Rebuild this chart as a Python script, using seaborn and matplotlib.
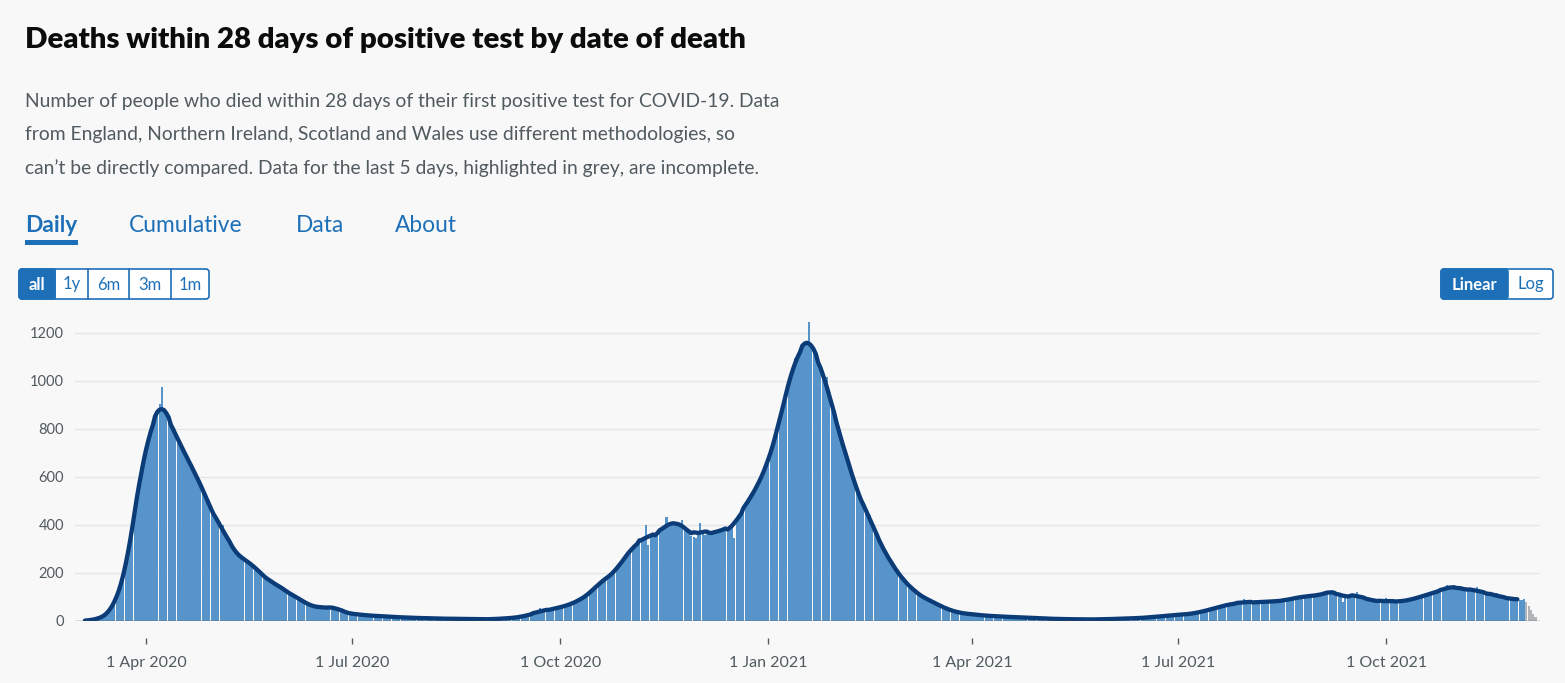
import pandas as pd
import numpy as np
import matplotlib
matplotlib.use('Agg')
import matplotlib.pyplot as plt
import matplotlib.transforms as mtransforms
from matplotlib.patches import FancyBboxPatch, Rectangle
import seaborn as sns

# ── Data ─────────────────────────────────────────────────────────────
start_date = "2020-03-02"
incomplete_days = 5

# daily deaths, one row per week (Mon..Sun)
daily_deaths = [
    0, 0, 1, 1, 2, 2, 5,
    6, 8, 10, 14, 18, 22, 30,
    40, 55, 75, 95, 120, 150, 180,
    215, 270, 330, 390, 450, 520, 580,
    640, 700, 710, 745, 790, 825, 850,
    880, 905, 975, 870, 860, 840, 820,
    790, 785, 755, 745, 715, 705, 680,
    665, 645, 628, 610, 590, 570, 550,
    530, 505, 480, 460, 440, 420, 400,
    395, 400, 360, 345, 322, 305, 292,
    283, 272, 262, 258, 252, 248, 241,
    235, 225, 215, 205, 195, 188, 180,
    170, 163, 158, 160, 150, 145, 135,
    130, 124, 118, 112, 106, 100, 97,
    92, 85, 78, 72, 67, 62, 60,
    60, 58, 57, 56, 58, 55, 54,
    55, 57, 60, 52, 45, 38, 35,
    33, 32, 30, 29, 28, 27, 26,
    25, 24, 23, 23, 22, 21, 21,
    21, 20, 20, 19, 18, 18, 17,
    17, 16, 16, 15, 15, 14, 14,
    14, 13, 13, 13, 12, 12, 12,
    12, 11, 11, 11, 10, 10, 10,
    10, 10, 9, 10, 9, 9, 9,
    9, 8, 9, 8, 8, 8, 8,
    8, 7, 8, 7, 7, 8, 7,
    7, 8, 8, 9, 9, 10, 10,
    11, 12, 12, 13, 14, 15, 16,
    18, 20, 23, 25, 27, 30, 33,
    35, 54, 40, 42, 44, 46, 49,
    50, 53, 55, 57, 60, 62, 65,
    67, 72, 76, 80, 85, 90, 96,
    102, 108, 115, 125, 135, 145, 158,
    160, 168, 175, 183, 190, 198, 205,
    213, 228, 245, 258, 270, 282, 295,
    305, 315, 322, 330, 338, 340, 400,
    318, 352, 355, 360, 365, 372, 378,
    385, 433, 395, 405, 410, 408, 402,
    398, 420, 385, 380, 372, 355, 350,
    345, 375, 410, 372, 360, 368, 362,
    362, 370, 375, 372, 378, 385, 380,
    385, 392, 405, 345, 430, 445, 460,
    470, 485, 495, 510, 525, 545, 565,
    580, 600, 620, 640, 665, 700, 735,
    760, 795, 835, 880, 920, 955, 990,
    1030, 1060, 1095, 1105, 1125, 1140, 1150,
    1165, 1245, 1160, 1130, 1100, 1080, 1050,
    1020, 1000, 1015, 940, 900, 865, 820,
    790, 765, 740, 700, 670, 640, 610,
    575, 545, 525, 500, 480, 460, 440,
    440, 400, 378, 352, 333, 312, 296,
    280, 265, 250, 232, 218, 205, 190,
    178, 168, 158, 150, 140, 130, 120,
    115, 108, 102, 97, 91, 86, 82,
    78, 74, 68, 63, 58, 54, 50,
    47, 44, 41, 38, 35, 33, 32,
    31, 30, 29, 28, 27, 26, 25,
    24, 23, 23, 22, 21, 20, 20,
    20, 19, 19, 18, 18, 17, 17,
    16, 16, 15, 15, 14, 14, 13,
    13, 13, 12, 12, 11, 11, 11,
    10, 10, 10, 9, 9, 9, 9,
    8, 8, 8, 8, 8, 7, 7,
    7, 7, 7, 7, 6, 7, 6,
    7, 6, 7, 7, 7, 7, 8,
    8, 8, 8, 9, 9, 9, 10,
    10, 10, 11, 11, 11, 12, 12,
    12, 13, 14, 14, 15, 16, 17,
    17, 18, 19, 20, 21, 22, 23,
    24, 25, 25, 26, 27, 27, 28,
    28, 29, 30, 32, 34, 36, 38,
    40, 42, 44, 47, 50, 53, 56,
    58, 60, 63, 66, 68, 70, 71,
    72, 73, 74, 75, 92, 76, 77,
    77, 78, 78, 79, 78, 80, 79,
    80, 81, 82, 80, 83, 82, 84,
    84, 86, 88, 90, 92, 94, 96,
    98, 99, 101, 102, 103, 104, 105,
    105, 106, 108, 110, 112, 115, 118,
    120, 128, 125, 115, 112, 108, 78,
    110, 108, 106, 104, 102, 120, 100,
    98, 96, 93, 90, 88, 86, 84,
    83, 82, 80, 80, 95, 81, 80,
    82, 80, 81, 82, 83, 84, 85,
    87, 89, 92, 95, 98, 100, 103,
    106, 109, 112, 115, 118, 121, 124,
    127, 130, 133, 152, 135, 138, 148,
    138, 136, 135, 134, 132, 131, 129,
    128, 126, 140, 122, 120, 118, 116,
    114, 111, 108, 105, 118, 100, 98,
    97, 96, 94, 93, 92, 91, 90,
    89, 87, 92, 80, 62, 45, 30,
    15,
]

tick_dates = ["2020-04-01", "2020-07-01", "2020-10-01", "2021-01-01",
              "2021-04-01", "2021-07-01", "2021-10-01"]
tick_labels = ["1 Apr 2020", "1 Jul 2020", "1 Oct 2020", "1 Jan 2021",
               "1 Apr 2021", "1 Jul 2021", "1 Oct 2021"]
y_ticks = [0, 200, 400, 600, 800, 1000, 1200]

title = "Deaths within 28 days of positive test by date of death"
subtitle_lines = [
    "Number of people who died within 28 days of their first positive test for COVID-19. Data",
    "from England, Northern Ireland, Scotland and Wales use different methodologies, so",
    "can\u2019t be directly compared. Data for the last 5 days, highlighted in grey, are incomplete.",
]
tabs = ["Daily", "Cumulative", "Data", "About"]
range_buttons = ["all", "1y", "6m", "3m", "1m"]
scale_buttons = ["Linear", "Log"]

# ── Colours / theme ──────────────────────────────────────────────────
BG = "#f8f8f8"
BAR = "#5694ca"
BAR_GREY = "#b1b4b6"
LINE = "#0b3c78"
LINK = "#1d70b8"
TEXT = "#0b0c0c"
SUB = "#505a5f"

sns.set_theme(style="white", rc={
    "figure.facecolor": BG,
    "axes.facecolor": BG,
})
plt.rcParams['font.family'] = ['Lato', 'DejaVu Sans']

W, H = 1565, 683
fig = plt.figure(figsize=(W / 100, H / 100), dpi=100)

# overlay in pixel coordinates for the page furniture
ov = fig.add_axes([0, 0, 1, 1], zorder=0)
ov.set_xlim(0, W)
ov.set_ylim(H, 0)
ov.axis('off')

ov.text(25, 40, title, fontsize=21.2, fontweight='heavy', color=TEXT,
        va='center', ha='left')
for i, line in enumerate(subtitle_lines):
    ov.text(25, 101 + 33.5 * i, line, fontsize=13.85, color=SUB,
            va='center', ha='left')

tab_x = [25, 129, 296, 395]
for tx, name in zip(tab_x, tabs):
    ov.text(tx, 225, name, fontsize=16.4, color=LINK, va='center', ha='left',
            fontweight='bold' if name == "Daily" else 'normal')
ov.add_patch(Rectangle((25, 240), 53, 5, color=LINK, lw=0))

# range buttons
edges = [19, 55, 88, 129, 171, 209]
ov.add_patch(FancyBboxPatch((19, 269), 190, 30,
                            boxstyle="round,pad=0,rounding_size=3",
                            fc="white", ec=LINK, lw=1.2))
ov.add_patch(FancyBboxPatch((19, 269), 36, 30,
                            boxstyle="round,pad=0,rounding_size=3",
                            fc=LINK, ec=LINK, lw=1.2))
for i, lab in enumerate(range_buttons):
    x0, x1 = edges[i], edges[i + 1]
    if 0 < i:
        ov.plot([x0, x0], [269, 299], color=LINK, lw=1.2)
    ov.text((x0 + x1) / 2, 284.5, lab, fontsize=12, ha='center', va='center',
            color='white' if i == 0 else LINK,
            fontweight='bold' if i == 0 else 'normal')

# scale buttons
ov.add_patch(FancyBboxPatch((1441, 269), 112, 30,
                            boxstyle="round,pad=0,rounding_size=3",
                            fc="white", ec=LINK, lw=1.2))
ov.add_patch(FancyBboxPatch((1441, 269), 67, 30,
                            boxstyle="round,pad=0,rounding_size=3",
                            fc=LINK, ec=LINK, lw=1.2))
ov.text(1474.5, 284.5, scale_buttons[0], fontsize=12, ha='center',
        va='center', color='white', fontweight='bold')
ov.text(1530.5, 284.5, scale_buttons[1], fontsize=12, ha='center',
        va='center', color=LINK)

# ── Chart ────────────────────────────────────────────────────────────
dates = pd.date_range(start_date, periods=len(daily_deaths), freq='D')
df = pd.DataFrame({"date": dates, "deaths": daily_deaths})
n_done = len(df) - incomplete_days
df["avg"] = np.nan
df.loc[:n_done - 1, "avg"] = (df["deaths"].iloc[:n_done]
                              .rolling(7, center=True).mean())

y_top = 1260
ax_bottom = (H - 621) / H
ax_top = (H - (621 - y_top * 0.24)) / H
ax = fig.add_axes([75 / W, ax_bottom, (1540 - 75) / W, ax_top - ax_bottom],
                  zorder=1)
ax.set_facecolor('none')

colors = [BAR] * n_done + [BAR_GREY] * incomplete_days
ax.bar(df["date"], df["deaths"], width=0.92, color=colors, lw=0, zorder=2)
sns.lineplot(data=df, x="date", y="avg", color=LINE, lw=3.1, ax=ax,
             zorder=3, solid_capstyle='round')

for yv in y_ticks[1:]:
    ax.axhline(yv, color="#e6e6e6", lw=1, zorder=1)
ax.axhline(0, color="#505a5f", lw=1, zorder=4)

ax.set_ylim(0, y_top)
ax.set_xlim(pd.Timestamp("2020-03-01") - pd.Timedelta(hours=9),
            pd.Timestamp("2021-12-08"))
ax.set_yticks(y_ticks)
ax.set_yticklabels([str(v) for v in y_ticks], fontsize=10.5, color=SUB)
ax.tick_params(axis='y', length=0, pad=8)

tick_ts = pd.to_datetime(tick_dates)
ax.set_xticks(tick_ts)
ax.set_xticklabels(tick_labels, fontsize=11.5, color=SUB)
ax.tick_params(axis='x', length=0, pad=25)
trans = mtransforms.blended_transform_factory(ax.transData, ax.transAxes)
ax_h = (ax_top - ax_bottom) * H
ax.vlines(tick_ts, -(638 - 621) / ax_h, -(644 - 621) / ax_h, color=SUB,
          lw=1, transform=trans, clip_on=False)

ax.set_xlabel("")
ax.set_ylabel("")
sns.despine(ax=ax, left=True, bottom=True)

fig.savefig("out.png", dpi=100, facecolor=BG)
